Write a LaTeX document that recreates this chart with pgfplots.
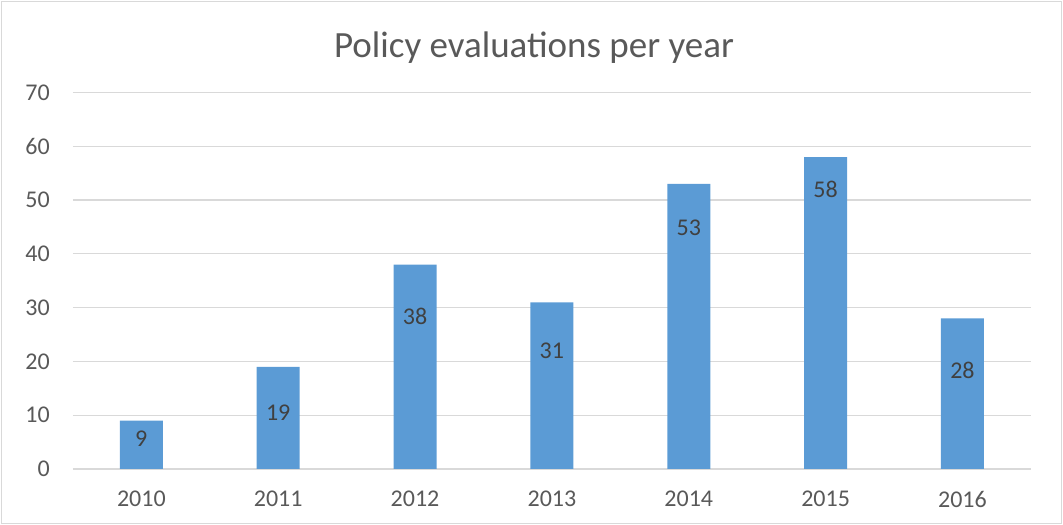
\documentclass[border=0pt]{standalone}
\usepackage{fontspec}
\setmainfont{Carlito}
\usepackage{pgfplots}
\pgfplotsset{compat=1.18}
\definecolor{barblue}{HTML}{5B9BD5}
\definecolor{txt}{HTML}{595959}
\definecolor{lbl}{HTML}{404040}
\definecolor{gridc}{HTML}{D9D9D9}
\begin{document}
\begin{tikzpicture}[x=1bp,y=1bp]
\useasboundingbox (0,0) rectangle (1063,525);
\draw[gridc, line width=1.5bp] (1.5,1.5) rectangle (1061.5,523.5);
\node[txt, font=\fontsize{37bp}{44bp}\selectfont] at (534,477) {Policy evaluations per year};
\begin{axis}[
  at={(72.9bp,56bp)}, anchor=south west,
  scale only axis, width=958bp, height=376.5bp,
  xmin=-0.5, xmax=6.5, ymin=0, ymax=70,
  ytick={0,10,...,70}, xtick={0,...,6},
  xticklabels={2010,2011,2012,2013,2014,2015,2016},
  axis line style={draw=none},
  ymajorgrids, grid style={gridc, line width=1.2bp},
  major tick length=0pt,
  tick label style={txt, font=\fontsize{24bp}{28bp}\selectfont, inner sep=0pt},
  /pgf/number format/assume math mode=true,
  yticklabel style={anchor=east, xshift=-23bp},
  xticklabel style={anchor=north, yshift=-22bp},
  clip=false,
]
\addplot[ybar, bar width=43bp, fill=barblue, draw=none] coordinates {
 (0,9) (1,19) (2,38) (3,31) (4,53) (5,58) (6,28)};
\addplot[draw=none, nodes near coords, point meta=explicit symbolic,
  nodes near coords style={anchor=center, lbl, font=\fontsize{24bp}{28bp}\selectfont}]
  table[meta=label] {
x y label
0 5.6 9
1 10.4 19
2 28.3 38
3 21.9 31
4 44.8 53
5 52.0 58
6 18.4 28
};
\end{axis}
\end{tikzpicture}
\end{document}
